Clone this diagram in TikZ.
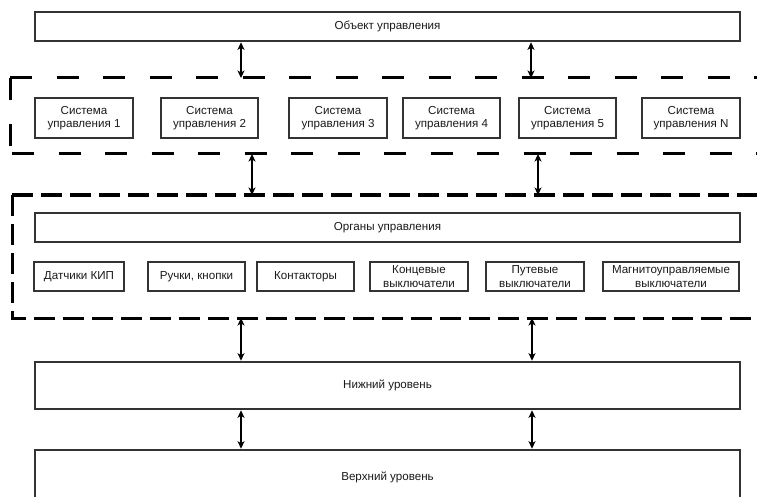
\documentclass[tikz,border=0pt]{standalone}
\usepackage{fontspec}
\setmainfont{Liberation Sans}
\usetikzlibrary{arrows.meta}
\definecolor{boxc}{HTML}{333333}
\definecolor{txtc}{HTML}{1A1A1A}
\tikzset{
  box/.style={draw=boxc, line width=2pt, rectangle, inner sep=0pt, align=center,
    font=\fontsize{11.6}{13.4}\selectfont, text=txtc},
  bigbox/.style={box, line width=2.6pt},
  dashA/.style={draw=black, line width=3pt, dash pattern=on 22pt off 24.5pt},
  dashB/.style={draw=black, line width=3pt, dash pattern=on 21pt off 8pt},
  arr/.style={draw=black, line width=1.3pt, {Stealth[length=7.5pt,width=7pt,inset=2pt]}-{Stealth[length=7.5pt,width=7pt,inset=2pt]}}
}
\begin{document}
\begin{tikzpicture}[x=1pt,y=-1pt]
\useasboundingbox (0,0) rectangle (757,497);
\clip (0,0) rectangle (757,497);
\fill[white] (0,0) rectangle (757,497);

% top object
\node[bigbox, minimum width=705, minimum height=29] (obj) at (387.5,26.5) {Объект управления};

% dashed group 1
\draw[dashA] (10,78) -- (780,78);
\draw[dashA] (10,78) -- (10,150);
\draw[dashA] (12,154) -- (780,154);
\coordinate (g1t) at (10,78);
\coordinate (g1b) at (12,154);

% systems
\node[box, minimum width=98, minimum height=40] (s1) at (84,118) {Система\\управления 1};
\node[box, minimum width=97, minimum height=40] (s2) at (209.5,118) {Система\\управления 2};
\node[box, minimum width=98, minimum height=40] (s3) at (338,118) {Система\\управления 3};
\node[box, minimum width=97, minimum height=40] (s4) at (451.5,118) {Система\\управления 4};
\node[box, minimum width=97, minimum height=40] (s5) at (567.5,118) {Система\\управления 5};
\node[box, minimum width=98, minimum height=40] (sN) at (691,118) {Система\\управления N};

% dashed group 2
\draw[dashB] (12,195) -- (780,195);
\draw[dashB] (12,195) -- (12,318) -- (780,318);
\coordinate (g2t) at (12,195);
\coordinate (g2b) at (12,318);

\node[bigbox, line width=2.2pt, minimum width=705, minimum height=29] (org) at (387.5,227.5) {Органы управления};
\node[box, minimum width=90, minimum height=29] (d1) at (79,276.5) {Датчики КИП};
\node[box, minimum width=97, minimum height=29] (d2) at (196.5,276.5) {Ручки, кнопки};
\node[box, minimum width=97, minimum height=29] (d3) at (305.5,276.5) {Контакторы};
\node[box, minimum width=98, minimum height=29] (d4) at (419,276.5) {Концевые\\выключатели};
\node[box, minimum width=98, minimum height=29] (d5) at (535,276.5) {Путевые\\выключатели};
\node[box, minimum width=136, minimum height=29] (d6) at (671,276.5) {Магнитоуправляемые\\выключатели};

% levels
\node[bigbox, minimum width=705, minimum height=47] (low) at (387.5,385.5) {Нижний уровень};
\node[bigbox, minimum width=705, minimum height=55] (up) at (387.5,477.5) {Верхний уровень};

% arrows
\coordinate (a1) at (241,0);
\coordinate (a2) at (531,0);
\coordinate (a3) at (252,0);
\coordinate (a4) at (538,0);
\coordinate (a5) at (241,0);
\coordinate (a6) at (532,0);
\draw[arr] (obj.south -| a1) -- (g1t -| a1);
\draw[arr] (obj.south -| a2) -- (g1t -| a2);
\draw[arr] (g1b -| a3) -- (g2t -| a3);
\draw[arr] (g1b -| a4) -- (g2t -| a4);
\draw[arr] (g2b -| a5) -- (low.north -| a5);
\draw[arr] (g2b -| a6) -- (low.north -| a6);
\draw[arr] (low.south -| a5) -- (up.north -| a5);
\draw[arr] (low.south -| a6) -- (up.north -| a6);
\end{tikzpicture}
\end{document}
